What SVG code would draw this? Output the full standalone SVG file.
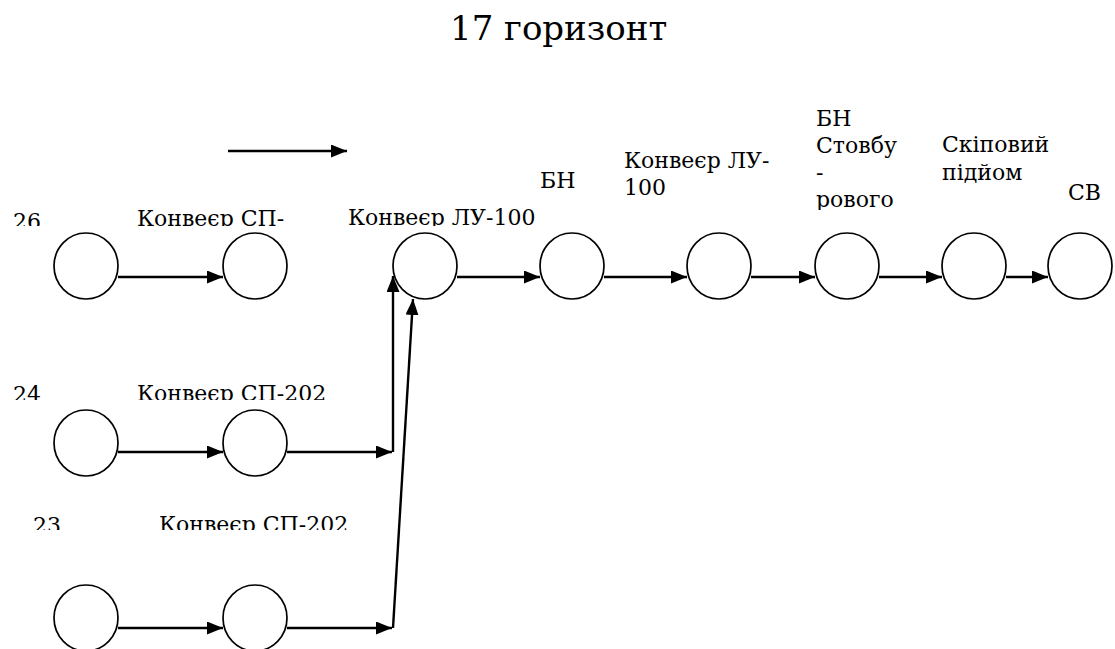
<svg xmlns="http://www.w3.org/2000/svg" width="1115" height="649" viewBox="0 0 1115 649">
  <style>
    .node { fill: #ffffff; stroke: #000000; stroke-width: 1.7; }
    .edge { fill: none; stroke: #000000; stroke-width: 2.4; }
    .txt { font-family: "DejaVu Serif", "Liberation Serif", serif; fill: #000000; }
  </style>
  <defs>
    <marker id="head" viewBox="0 0 16 13" refX="16" refY="6.5" markerWidth="16" markerHeight="13" markerUnits="userSpaceOnUse" orient="auto">
      <path d="M0,0 L16,6.5 L0,13 Z" fill="#000000"/>
    </marker>
    <!-- label frames cut off the lower part of the text -->
    <clipPath id="cutRow1"><rect x="0" y="190" width="560" height="36"/></clipPath>
    <clipPath id="cutRow2"><rect x="0" y="370" width="400" height="30"/></clipPath>
    <clipPath id="cutRow3"><rect x="0" y="500" width="400" height="30"/></clipPath>
    <clipPath id="cutShaft"><rect x="800" y="100" width="120" height="110"/></clipPath>
  </defs>

  <rect width="1115" height="649" fill="#ffffff"/>

  <g class="txt">
    <text x="450" y="40" font-size="34">17 горизонт</text>

    <g font-size="22">
      <!-- row labels -->
      <g clip-path="url(#cutRow1)">
        <text x="13" y="229">26</text>
        <text x="137" y="226">Конвеєр СП-</text>
        <text x="348" y="225">Конвеєр ЛУ-100</text>
      </g>
      <g clip-path="url(#cutRow2)">
        <text x="13" y="402">24</text>
        <text x="137" y="401">Конвеєр СП-202</text>
      </g>
      <g clip-path="url(#cutRow3)">
        <text x="33" y="533">23</text>
        <text x="159" y="532">Конвеєр СП-202</text>
      </g>
      <text x="540" y="188">БН</text>
      <text x="624" y="168">Конвеєр ЛУ-</text>
      <text x="624" y="195">100</text>
      <g clip-path="url(#cutShaft)">
        <text x="816" y="126">БН</text>
        <text x="816" y="153">Стовбу</text>
        <text x="816" y="180">-</text>
        <text x="816" y="207">рового</text>
      </g>
      <text x="942" y="152">Скіповий</text>
      <text x="942" y="180">підйом</text>
      <text x="1068" y="200">СВ</text>
    </g>
  </g>

  <!-- nodes -->
  <g id="n26a"><ellipse class="node" cx="86" cy="266" rx="32" ry="33"/></g>
  <g id="n26b"><ellipse class="node" cx="255" cy="266" rx="32" ry="33"/></g>
  <g id="nLU"><ellipse class="node" cx="425" cy="266" rx="32" ry="33"/></g>
  <g id="nBN1"><ellipse class="node" cx="572" cy="266" rx="32" ry="33"/></g>
  <g id="nLU2"><ellipse class="node" cx="719" cy="266" rx="32" ry="33"/></g>
  <g id="nBN2"><ellipse class="node" cx="847" cy="266" rx="32" ry="33"/></g>
  <g id="nSkip"><ellipse class="node" cx="974" cy="266" rx="32" ry="33"/></g>
  <g id="nSV"><ellipse class="node" cx="1080" cy="266" rx="32" ry="33"/></g>
  <g id="n24a"><ellipse class="node" cx="86" cy="443" rx="32" ry="33"/></g>
  <g id="n24b"><ellipse class="node" cx="255" cy="443" rx="32" ry="33"/></g>
  <g id="n23a"><ellipse class="node" cx="86" cy="618" rx="32" ry="33"/></g>
  <g id="n23b"><ellipse class="node" cx="255" cy="618" rx="32" ry="33"/></g>

  <!-- connectors -->
  <g id="connectors" class="edge" marker-end="url(#head)">
    <!-- legend arrow -->
    <line x1="228" y1="151" x2="347" y2="151"/>

    <line x1="118" y1="277" x2="223" y2="277"/>
    <line x1="457" y1="277" x2="540" y2="277"/>
    <line x1="604" y1="277" x2="687" y2="277"/>
    <line x1="751" y1="277" x2="815" y2="277"/>
    <line x1="879" y1="277" x2="942" y2="277"/>
    <line x1="1006" y1="277" x2="1048" y2="277"/>

    <line x1="118" y1="452" x2="223" y2="452"/>
    <line x1="287" y1="452" x2="392" y2="452"/>
    <line x1="393" y1="452" x2="393" y2="276"/>

    <line x1="118" y1="628" x2="223" y2="628"/>
    <line x1="287" y1="628" x2="392" y2="628"/>
    <line x1="393" y1="628" x2="413" y2="299"/>
  </g>
</svg>
